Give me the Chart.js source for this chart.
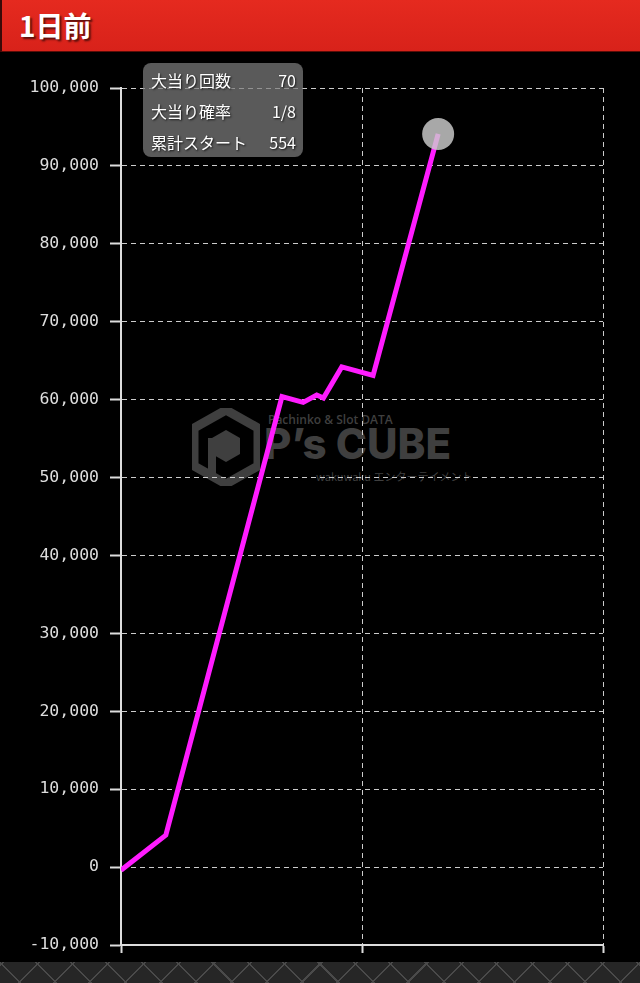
<!DOCTYPE html>
<html lang="ja">
<head>
<meta charset="utf-8">
<script src="https://cdn.jsdelivr.net/npm/chart.js@4"></script>
<style>
    html, body { margin: 0; padding: 0; background: #000; }
    body { width: 640px; height: 983px; overflow: hidden; position: relative; }
    .header {
        height: 52px;
        background: linear-gradient(#e52a1f, #d8221a);
        border-bottom: 1px solid #5a0d08;
        box-sizing: border-box;
        border-left: 2px solid #3a0a08;
    }
    .header h1 {
        margin: 0;
        padding: 7px 0 0 17px;
        font-family: "Noto Sans CJK JP", serif;
        font-weight: 700;
        font-size: 28px;
        line-height: 36px;
        color: #fff;
        text-shadow: 2px 2px 2px rgba(0,0,0,0.6);
    }
    .chartBox { position: relative; width: 640px; height: 910px; background: #000; }
    .chartBox canvas { position: relative; z-index: 2; }
    .watermark { position: absolute; left: 0; top: 0; z-index: 1; color: #3f3f3f; font-family: "Open Sans", sans-serif; }
    .wm-top { position: absolute; left: 268px; top: 359px; font-size: 12px; white-space: nowrap; font-weight: 600; }
    .wm-main { position: absolute; left: 264px; top: 366px; font-size: 42px; font-weight: 800; white-space: nowrap; letter-spacing: 0px; font-family: "Inter", sans-serif; }
    .wm-sub { position: absolute; left: 316px; top: 416px; font-size: 11px; white-space: nowrap; font-family: "Noto Sans CJK JP", sans-serif; }
    .wm-icon { position: absolute; left: 192px; top: 356px; }
    .info {
        position: absolute; left: 143px; top: 11px; width: 160px; height: 94px;
        background: rgba(125,125,125,0.72); border-radius: 8px; z-index: 3;
        font-family: "Noto Sans CJK JP", serif; font-size: 16px; color: #fff;
        text-shadow: 1px 1px 2px rgba(0,0,0,0.8);
    }
    .info .row { position: absolute; left: 8px; right: 7px; height: 22px; line-height: 22px; }
    .info .row span:last-child { position: absolute; right: 0; }
    .footer {
        height: 21px;
        background-color: #262626;
        background-image:
            repeating-linear-gradient(45deg, transparent 0 14px, #4a4a4a 14px 15.5px, transparent 15.5px 25px),
            repeating-linear-gradient(-45deg, transparent 0 14px, #4a4a4a 14px 15.5px, transparent 15.5px 25px);
    }
</style>
</head>
<body>
<div class="header"><h1>1日前</h1></div>
<div class="chartBox">
    <div class="watermark">
        <svg class="wm-icon" width="68" height="78" viewBox="0 0 68 78">
            <polygon points="34,2 66,20 66,58 34,76 2,58 2,20" fill="none" stroke="#3f3f3f" stroke-width="9"/>
            <polygon points="34,22 48,30 48,46 34,54 20,46 20,30" fill="#3f3f3f"/>
            <rect x="16" y="30" width="8" height="36" fill="#3f3f3f"/>
        </svg>
        <div class="wm-top">Pachinko &amp; Slot DATA</div>
        <div class="wm-main">P’s CUBE</div>
        <div class="wm-sub">wakuwaku エンターテイメント</div>
    </div>
    <canvas id="slumpChart" width="640" height="910"></canvas>
    <div class="info" id="info"></div>
</div>
<div class="footer"></div>
<script>
// 累計スタート (x) と差枚 (y)
const startCounts = [0, 93, 334, 378, 406, 420, 458, 523, 658];
const diffValues = [-400, 4100, 60400, 59650, 60600, 60200, 64200, 63100, 94100];

// 軸の範囲
const yMin = -10000;
const yMax = 100000;
const yStep = 10000;
const xMin = 0;
const xMax = 1000;
const xStep = 500;

// 情報ボックス
const infoLabels = ['大当り回数', '大当り確率', '累計スタート'];
const infoValues = ['70', '1/8', '554'];

const info = document.getElementById('info');
infoLabels.forEach((label, i) => {
    const row = document.createElement('div');
    row.className = 'row';
    row.style.top = (6 + i * 31) + 'px';
    row.innerHTML = `<span>${label}</span><span>${infoValues[i]}</span>`;
    info.appendChild(row);
});

const points = startCounts.map((x, i) => ({ x: x, y: diffValues[i] }));
const radii = points.map((p, i) => i === points.length - 1 ? 16 : 0);

const ctx = document.getElementById('slumpChart').getContext('2d');
new Chart(ctx, {
    type: 'scatter',
    data: {
        datasets: [{
            data: points,
            showLine: true,
            borderColor: '#ff1cff',
            borderWidth: 5,
            tension: 0,
            pointRadius: radii,
            pointHoverRadius: radii,
            pointBackgroundColor: 'rgba(205,205,205,0.82)',
            pointBorderWidth: 0
        }]
    },
    options: {
        responsive: false,
        animation: false,
        layout: { padding: { top: 36, right: 37, left: 0, bottom: 0 } },
        plugins: { legend: { display: false }, tooltip: { enabled: false } },
        scales: {
            x: {
                type: 'linear',
                min: xMin,
                max: xMax,
                ticks: { stepSize: xStep, display: false },
                grid: { color: '#cccccc', lineWidth: 1, tickLength: 8, tickColor: '#dddddd', tickWidth: 2 },
                border: { color: '#dddddd', width: 2, dash: [5, 4] },
                afterFit: scale => { scale.height = 17; }
            },
            y: {
                min: yMin,
                max: yMax,
                ticks: {
                    stepSize: yStep,
                    color: '#dddddd',
                    padding: 11,
                    font: { family: '"DejaVu Sans Mono", monospace', size: 16.5 },
                    callback: v => v.toLocaleString('en-US')
                },
                grid: { color: '#cccccc', lineWidth: 1, tickLength: 11, tickColor: '#dddddd', tickWidth: 2 },
                border: { color: '#dddddd', width: 2, dash: [5, 4] },
                afterFit: scale => {
                    scale.width = 121;
                    scale.paddingTop = 0;
                    scale.paddingBottom = 0;
                }
            }
        }
    }
});
</script>
</body>
</html>
